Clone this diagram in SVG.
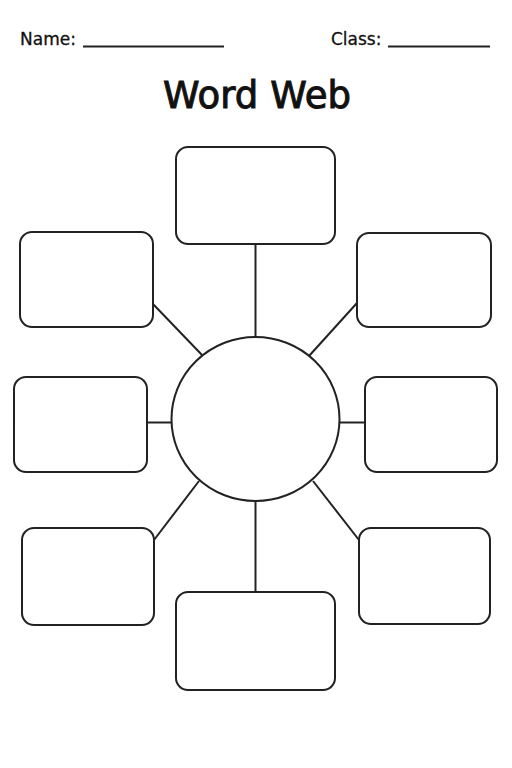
<svg xmlns="http://www.w3.org/2000/svg" width="512" height="768" viewBox="0 0 512 768">
<style>
.box{fill:#fff;stroke:#222;stroke-width:2}
.ln{stroke:#222;stroke-width:2;fill:none}
.hd{font-family:"DejaVu Sans",sans-serif;font-size:17px;fill:#111;stroke:#111;stroke-width:0.3}
.tt{font-family:"DejaVu Sans",sans-serif;font-size:37px;fill:#111;stroke:#111;stroke-width:1}
</style>
<rect width="512" height="768" fill="#fff"/>
<g id="header">
<text class="hd" x="20" y="45">Name:</text>
<line class="ln" x1="83" y1="46.5" x2="224" y2="46.5"/>
<text class="hd" x="331" y="45">Class:</text>
<line class="ln" x1="388" y1="46.5" x2="490" y2="46.5"/>
<text class="tt" x="257" y="108" text-anchor="middle" textLength="188">Word Web</text>
</g>
<g id="connectors">
<line class="ln" x1="255.5" y1="244" x2="255.5" y2="337"/>
<line class="ln" x1="255.5" y1="501" x2="255.5" y2="592"/>
<line class="ln" x1="147" y1="422.5" x2="171" y2="422.5"/>
<line class="ln" x1="340" y1="422.5" x2="365" y2="422.5"/>
<line class="ln" x1="153" y1="304" x2="202" y2="355"/>
<line class="ln" x1="357" y1="303" x2="309" y2="356"/>
<line class="ln" x1="154" y1="540" x2="199" y2="481"/>
<line class="ln" x1="359" y1="540" x2="313" y2="481"/>
</g>
<g id="center"><ellipse class="box" cx="255.5" cy="419" rx="84" ry="82"/></g>
<g id="box-top"><rect class="box" x="176" y="147" width="159" height="97" rx="12"/></g>
<g id="box-upper-left"><rect class="box" x="20" y="232" width="133" height="95" rx="12"/></g>
<g id="box-upper-right"><rect class="box" x="357" y="233" width="134" height="94" rx="12"/></g>
<g id="box-left"><rect class="box" x="14" y="377" width="133" height="95" rx="12"/></g>
<g id="box-right"><rect class="box" x="365" y="377" width="132" height="95" rx="12"/></g>
<g id="box-lower-left"><rect class="box" x="22" y="528" width="132" height="97" rx="12"/></g>
<g id="box-lower-right"><rect class="box" x="359" y="528" width="131" height="96" rx="12"/></g>
<g id="box-bottom"><rect class="box" x="176" y="592" width="159" height="98" rx="12"/></g>
</svg>
